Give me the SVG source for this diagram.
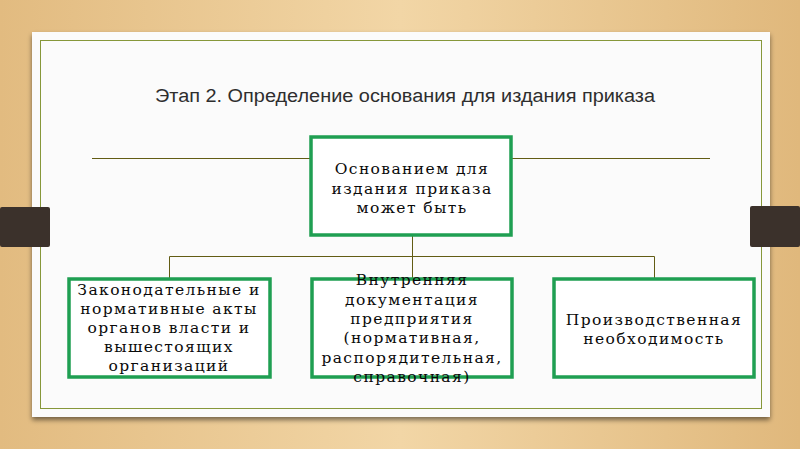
<svg xmlns="http://www.w3.org/2000/svg" width="800" height="449" viewBox="0 0 800 449">
  <defs>
    <linearGradient id="wood" x1="0" y1="0" x2="1" y2="0">
      <stop offset="0" stop-color="#e2bb80"/>
      <stop offset="0.5" stop-color="#f2d6a6"/>
      <stop offset="1" stop-color="#e0b87c"/>
    </linearGradient>
    <filter id="sh" x="-5%" y="-5%" width="110%" height="115%">
      <feGaussianBlur in="SourceAlpha" stdDeviation="2.5"/>
      <feOffset dx="0" dy="3"/>
      <feComponentTransfer><feFuncA type="linear" slope="0.5"/></feComponentTransfer>
      <feMerge><feMergeNode/><feMergeNode in="SourceGraphic"/></feMerge>
    </filter>
    <style>
      .box { fill: #ffffff; stroke: #1f9f52; stroke-width: 3.5; }
      .conn { fill: none; stroke: #625c14; stroke-width: 1; }
      .lbl { font-family: "DejaVu Serif", "Liberation Serif", serif; font-size: 15.5px; letter-spacing: 1.4px; fill: #0a0a0a; text-anchor: middle; }
      .title { font-family: "Liberation Sans", Arial, sans-serif; font-size: 18px; fill: #2e2e2e; }
    </style>
  </defs>
  <rect x="0" y="0" width="800" height="449" fill="url(#wood)"/>
  <rect x="32" y="32" width="738" height="385" fill="#fbfbfb" filter="url(#sh)"/>
  <rect x="40.5" y="40.5" width="721" height="368" fill="none" stroke="#86973a" stroke-width="1"/>
  <rect x="0" y="207" width="50" height="40" fill="#3b312b" rx="2"/>
  <rect x="750" y="206" width="50" height="41" fill="#3b312b" rx="2"/>
  <text class="title" x="155" y="102" textLength="500" lengthAdjust="spacingAndGlyphs">Этап 2. Определение основания для издания приказа</text>
  <g id="connectors">
    <line class="conn" x1="92" y1="158.5" x2="312" y2="158.5"/>
    <line class="conn" x1="512" y1="158.5" x2="710" y2="158.5"/>
    <path class="conn" d="M412.5 236 V256.5 M169.5 278 V256.5 H654.5 V278 M412.5 256.5 V278"/>
  </g>
  <g id="n0">
    <rect class="box" x="311" y="137" width="200" height="98"/>
    <text class="lbl" x="412" y="174">Основанием для</text>
    <text class="lbl" x="412" y="194">издания приказа</text>
    <text class="lbl" x="412" y="213">может быть</text>
  </g>
  <g id="n1">
    <rect class="box" x="69" y="279" width="201" height="98"/>
    <text class="lbl" x="169" y="295">Законодательные и</text>
    <text class="lbl" x="169" y="314">нормативные акты</text>
    <text class="lbl" x="169" y="333">органов власти и</text>
    <text class="lbl" x="169" y="352">вышестоящих</text>
    <text class="lbl" x="169" y="371">организаций</text>
  </g>
  <g id="n2">
    <rect class="box" x="312" y="279" width="200" height="98"/>
    <text class="lbl" x="412" y="285">Внутренняя</text>
    <text class="lbl" x="412" y="305">документация</text>
    <text class="lbl" x="412" y="324">предприятия</text>
    <text class="lbl" x="412" y="343">(нормативная,</text>
    <text class="lbl" x="412" y="363">распорядительная,</text>
    <text class="lbl" x="412" y="382">справочная)</text>
  </g>
  <g id="n3">
    <rect class="box" x="554" y="279" width="200" height="98"/>
    <text class="lbl" x="654" y="325">Производственная</text>
    <text class="lbl" x="654" y="344">необходимость</text>
  </g>
</svg>
